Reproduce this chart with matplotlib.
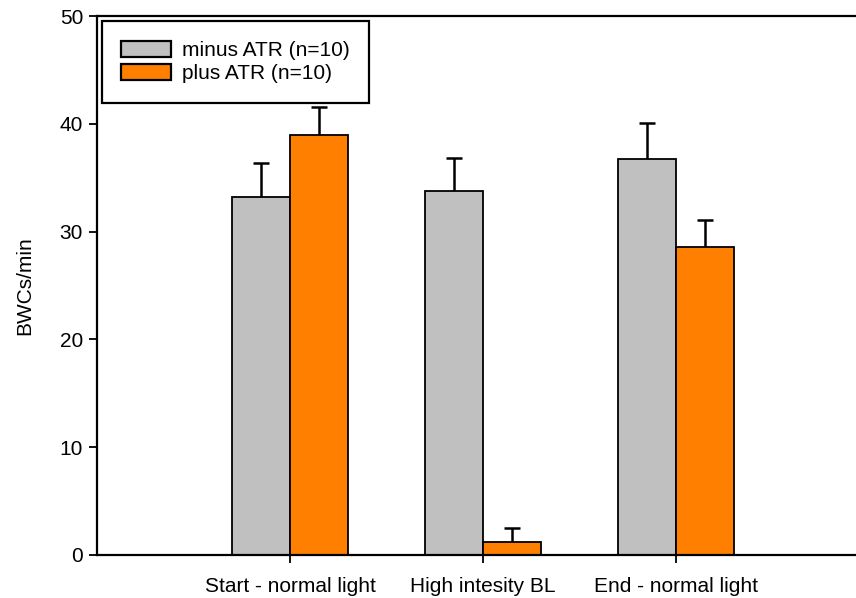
import matplotlib
matplotlib.use("Agg")
import matplotlib.pyplot as plt
import numpy as np

categories = ["Start - normal light", "High intesity BL", "End - normal light"]
minus_atr = [33.2, 33.8, 36.7]
minus_err = [3.2, 3.0, 3.4]
plus_atr = [39.0, 1.2, 28.6]
plus_err = [2.6, 1.3, 2.5]
labels = ["minus ATR (n=10)", "plus ATR (n=10)"]

plt.rcParams['font.family'] = ['Liberation Sans', 'DejaVu Sans']

fig = plt.figure(figsize=(8.56, 5.98), dpi=100)
W, H = 856, 598
left, right, top, bottom = 97, 869, 16, 555
ax = fig.add_axes([left / W, 1 - bottom / H, (right - left) / W, (bottom - top) / H])

x = np.arange(1, len(categories) + 1)
w = 0.3
fs = 15
ax.bar(x - w / 2, minus_atr, w, color='#c0c0c0', edgecolor='black', linewidth=1.3,
       label=labels[0], zorder=2)
ax.bar(x + w / 2, plus_atr, w, color='#ff8000', edgecolor='black', linewidth=1.3,
       label=labels[1], zorder=2)

for xs, vals, errs in [(x - w / 2, minus_atr, minus_err), (x + w / 2, plus_atr, plus_err)]:
    cont = ax.errorbar(xs, vals, yerr=[np.zeros(len(vals)), errs], fmt='none',
                       ecolor='black', elinewidth=1.8, capthick=1.8, capsize=6, zorder=1)
    caps = cont.lines[1]
    if len(caps) >= 1:
        caps[0].set_visible(False)

ax.set_xlim(0, 4)
ax.set_ylim(0, 50)
ax.set_xticks(x)
ax.set_xticklabels(categories, fontsize=fs)
ax.set_yticks([0, 10, 20, 30, 40, 50])
ax.tick_params(axis='y', labelsize=fs, direction='out', length=6, width=1.3, pad=4)
ax.tick_params(axis='x', direction='out', length=6, width=1.3, pad=10)
ax.set_ylabel("BWCs/min", fontsize=fs, labelpad=18)

for s in ['left', 'top', 'bottom']:
    ax.spines[s].set_linewidth(1.6)
ax.spines['right'].set_visible(False)

leg = ax.legend(loc='upper left', bbox_to_anchor=(0.006, 0.99), fontsize=fs,
                fancybox=False, framealpha=1, edgecolor='black',
                handlelength=2.4, handleheight=0.75, borderpad=0.95,
                labelspacing=0.2, handletextpad=0.5, borderaxespad=0)
leg.get_frame().set_linewidth(1.6)
for p in leg.get_patches():
    p.set_linewidth(1.6)

fig.savefig("out.png", dpi=100)
